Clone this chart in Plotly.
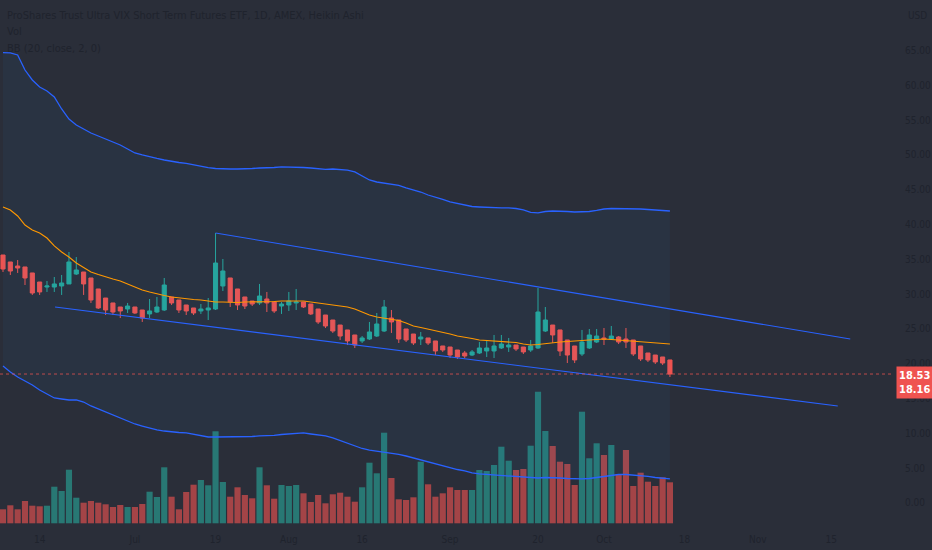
import pandas as pd
import plotly.graph_objects as go

# Heikin Ashi daily candles, UVXY, Jun 7 - Oct 14 2021
opens = [35.63, 34.63, 34.05, 33.91, 33.05, 31.75, 31.03, 31.03, 31.18, 31.47,
         32.90, 33.19, 32.33, 30.75, 29.45, 28.74, 28.16, 27.87, 28.16, 27.73,
         27.16, 27.44, 27.73, 29.60, 29.17, 28.45, 28.02, 27.59, 27.73, 27.87,
         31.18, 32.33, 30.75, 29.60, 29.02, 28.74, 29.31, 28.88, 28.30, 28.45,
         28.74, 28.88, 28.59, 27.87, 27.01, 26.29, 25.57, 24.86, 24.14, 23.28,
         23.56, 23.99, 24.71, 26.58, 26.29, 25.00, 24.28, 23.56, 23.71, 23.28,
         22.56, 22.41, 21.98, 21.55, 21.26, 21.55, 21.84, 21.84, 22.27, 22.41,
         22.70, 22.41, 21.98, 22.27, 24.71, 25.57, 24.86, 23.42, 22.56, 21.41,
         22.27, 23.13, 23.71, 23.56, 23.85, 23.56, 23.42, 22.56, 21.55, 21.26,
         20.98, 20.55]
highs = [35.63, 34.63, 34.91, 33.91, 33.05, 31.75, 31.90, 32.47, 32.76, 36.06,
         35.34, 33.19, 32.33, 30.75, 29.45, 28.74, 28.16, 28.74, 28.16, 27.73,
         29.31, 29.60, 32.33, 29.60, 29.17, 28.45, 28.02, 28.59, 29.45, 38.79,
         35.06, 32.33, 30.75, 29.60, 29.02, 31.47, 30.32, 28.88, 28.88, 30.32,
         30.75, 28.88, 28.59, 27.87, 27.01, 26.29, 25.57, 24.86, 24.14, 23.99,
         26.01, 27.30, 29.17, 27.73, 26.29, 25.00, 24.28, 24.57, 23.71, 23.28,
         22.56, 22.41, 21.98, 21.84, 21.98, 23.13, 23.42, 24.14, 24.14, 23.71,
         22.70, 22.41, 23.42, 30.89, 28.16, 25.57, 24.86, 23.42, 22.56, 24.86,
         25.00, 25.00, 25.14, 25.43, 23.99, 25.14, 23.42, 22.56, 21.55, 21.26,
         20.98, 20.55]
lows = [33.19, 32.76, 33.05, 31.32, 29.89, 29.89, 30.32, 30.32, 29.89, 31.47,
        32.76, 29.89, 28.74, 27.87, 27.01, 27.01, 26.58, 27.30, 27.16, 26.01,
        26.58, 27.30, 27.59, 28.45, 27.30, 27.01, 27.01, 27.16, 26.29, 27.73,
        30.46, 28.16, 27.73, 27.87, 28.30, 28.45, 27.44, 27.30, 27.16, 27.59,
        27.73, 28.02, 27.01, 25.72, 25.14, 24.43, 23.42, 22.70, 22.27, 22.99,
        23.42, 23.85, 24.57, 24.43, 22.99, 23.13, 22.70, 22.70, 22.70, 21.26,
        21.70, 20.83, 20.69, 20.83, 21.12, 21.41, 20.98, 20.83, 22.13, 21.70,
        21.84, 21.41, 21.70, 22.13, 24.57, 22.99, 21.12, 20.11, 20.11, 21.12,
        22.13, 22.99, 22.70, 23.42, 22.84, 22.27, 21.12, 20.40, 20.26, 19.97,
        19.83, 18.10]
closes = [33.62, 33.33, 33.76, 32.33, 30.17, 30.32, 31.18, 31.47, 31.61, 34.63,
          33.48, 31.47, 29.17, 28.02, 27.73, 27.44, 27.59, 28.30, 27.30, 26.58,
          27.59, 28.16, 31.32, 28.74, 27.73, 27.59, 27.30, 27.87, 28.02, 34.48,
          33.33, 28.88, 28.45, 28.30, 28.59, 29.74, 28.74, 27.59, 28.59, 29.02,
          28.88, 28.16, 27.16, 26.01, 25.43, 24.71, 23.99, 23.28, 22.70, 23.71,
          24.57, 25.72, 28.16, 26.01, 23.56, 23.42, 22.99, 23.85, 22.99, 21.84,
          21.98, 21.26, 20.98, 21.12, 21.70, 22.27, 22.27, 22.56, 22.84, 22.70,
          22.13, 21.70, 22.56, 27.44, 26.29, 24.14, 21.84, 21.26, 20.55, 23.13,
          24.14, 23.99, 23.56, 23.99, 23.13, 23.13, 21.41, 20.69, 20.55, 20.26,
          20.11, 18.53]
volumes = [14.0, 18.0, 14.0, 22.3, 17.6, 17.0, 17.6, 36.6, 32.3, 53.6,
           25.6, 20.6, 22.3, 20.6, 19.0, 16.3, 18.3, 16.3, 16.3, 19.3,
           31.6, 26.3, 56.0, 26.6, 14.0, 31.3, 38.6, 43.3, 38.0, 92.0,
           41.3, 26.6, 36.0, 28.3, 25.0, 56.0, 38.0, 24.6, 38.3, 37.3,
           38.3, 30.0, 21.3, 28.3, 20.0, 29.0, 30.6, 26.6, 21.6, 36.0,
           60.6, 50.0, 90.6, 45.3, 24.0, 23.3, 26.0, 61.6, 39.0, 26.6,
           30.0, 36.0, 33.3, 33.3, 33.3, 53.3, 52.3, 58.3, 76.6, 62.6,
           53.3, 54.3, 77.6, 131.6, 92.3, 77.3, 61.6, 59.3, 38.3, 111.6,
           65.0, 80.0, 68.3, 78.3, 49.0, 73.3, 37.3, 50.6, 41.6, 37.3,
           46.0, 41.0]

# BB (20, close, 2, 0)
bb_upper = [64.70, 64.66, 64.37, 62.21, 60.78, 59.77, 59.20, 58.33, 56.61, 55.17,
            54.31, 53.74, 53.16, 52.73, 52.30, 51.87, 51.44, 50.86, 50.29, 50.00,
            49.71, 49.50, 49.28, 49.07, 48.92, 48.78, 48.56, 48.35, 48.20, 48.06,
            47.99, 47.99, 47.99, 47.99, 48.06, 48.13, 48.13, 48.20, 48.28, 48.28,
            48.28, 48.20, 48.13, 47.99, 47.92, 47.99, 47.92, 47.84, 47.56, 46.98,
            46.41, 46.12, 45.98, 45.83, 45.62, 45.26, 44.97, 44.68, 44.25, 43.97,
            43.61, 43.25, 43.03, 42.82, 42.60, 42.53, 42.46, 42.39, 42.39, 42.39,
            42.31, 42.10, 41.74, 41.67, 41.88, 41.95, 41.95, 41.88, 41.81, 41.81,
            41.88, 42.03, 42.24, 42.31, 42.31, 42.31, 42.24, 42.24, 42.17, 42.10,
            42.03, 41.95]
bb_basis = [42.53, 42.10, 41.24, 39.94, 39.22, 38.79, 38.07, 36.93, 36.06, 35.34,
            34.48, 33.84, 33.19, 32.83, 32.47, 32.18, 31.90, 31.47, 31.03, 30.60,
            30.32, 30.03, 29.81, 29.60, 29.45, 29.31, 29.24, 29.17, 29.02, 28.88,
            28.88, 28.81, 28.81, 28.88, 28.88, 28.95, 28.95, 28.95, 29.02, 29.02,
            29.02, 29.02, 28.88, 28.74, 28.59, 28.45, 28.30, 28.16, 27.87, 27.44,
            27.01, 26.72, 26.58, 26.44, 26.22, 25.86, 25.43, 25.22, 25.00, 24.78,
            24.50, 24.28, 23.99, 23.85, 23.64, 23.42, 23.35, 23.28, 23.28, 23.20,
            23.06, 22.84, 22.70, 22.77, 22.92, 23.06, 23.13, 23.20, 23.28, 23.28,
            23.42, 23.49, 23.56, 23.49, 23.42, 23.28, 23.20, 23.13, 23.06, 22.99,
            22.92, 22.84]
bb_lower = [19.68, 18.82, 18.10, 17.53, 16.95, 16.24, 15.66, 15.09, 14.94, 14.80,
            14.80, 14.51, 13.94, 13.51, 13.07, 12.64, 12.21, 11.78, 11.35, 11.06,
            10.78, 10.49, 10.34, 10.20, 10.13, 10.06, 9.84, 9.63, 9.48, 9.48,
            9.48, 9.55, 9.48, 9.48, 9.55, 9.63, 9.63, 9.70, 9.84, 9.91,
            10.06, 10.06, 9.91, 9.77, 9.63, 9.34, 8.98, 8.62, 8.19, 7.83,
            7.61, 7.47, 7.33, 7.18, 6.97, 6.75, 6.47, 6.18, 5.89, 5.60,
            5.32, 5.10, 4.81, 4.60, 4.31, 4.17, 4.09, 4.02, 3.95, 3.88,
            3.81, 3.74, 3.59, 3.59, 3.66, 3.66, 3.59, 3.52, 3.45, 3.45,
            3.52, 3.66, 3.81, 3.95, 4.09, 4.09, 4.02, 3.88, 3.81, 3.66,
            3.52, 3.45]

# hand drawn trend lines (bar position, price)
trend_top_x = [29, 115.6]
trend_top_y = [38.79, 23.56]
trend_bottom_x = [7.1, 113.9]
trend_bottom_y = [28.16, 13.94]

real_close = 18.16

tick_dates = ["2021-06-14", "2021-07-01", "2021-07-19", "2021-08-02", "2021-08-16", "2021-09-01",
              "2021-09-20", "2021-10-01", "2021-10-18", "2021-11-01", "2021-11-15"]
tick_text = ["14", "Jul", "19", "Aug", "16", "Sep", "20", "Oct", "18", "Nov", "15"]

holidays = ["2021-07-05", "2021-09-06", "2021-11-25"]
calendar = [d.strftime("%Y-%m-%d") for d in pd.bdate_range("2021-06-07", "2021-11-30")]
calendar = [d for d in calendar if d not in holidays]
tick_pos = [calendar.index(d) for d in tick_dates]

bars = list(range(len(closes)))
UP, DOWN = "#26a69a", "#ef5350"
vol_colors = ["rgba(38,166,154,0.62)" if c >= o else "rgba(239,83,80,0.62)" for o, c in zip(opens, closes)]

FONT = "Liberation Sans Narrow, DejaVu Sans Condensed, sans-serif"
BG = "#2a2e39"
TXT = "#1f232d"

fig = go.Figure()

fig.add_trace(go.Bar(x=bars, y=volumes, marker_color=vol_colors, marker_line_width=0,
                     width=0.84, yaxis="y", hoverinfo="skip"))

fig.add_trace(go.Scatter(x=bars, y=bb_upper, mode="lines", line=dict(color="#2962ff", width=1.3),
                         yaxis="y2", hoverinfo="skip"))
fig.add_trace(go.Scatter(x=bars, y=bb_lower, mode="lines", line=dict(color="#2962ff", width=1.3),
                         fill="tonexty", fillcolor="rgba(33,150,243,0.05)", yaxis="y2", hoverinfo="skip"))
fig.add_trace(go.Scatter(x=bars, y=bb_basis, mode="lines", line=dict(color="#ff9800", width=1.1),
                         yaxis="y2", hoverinfo="skip"))

fig.add_trace(go.Scatter(x=trend_top_x, y=trend_top_y, mode="lines", line=dict(color="#2962ff", width=1.1),
                         yaxis="y2", hoverinfo="skip"))
fig.add_trace(go.Scatter(x=trend_bottom_x, y=trend_bottom_y, mode="lines", line=dict(color="#2962ff", width=1.1),
                         yaxis="y2", hoverinfo="skip"))

fig.add_trace(go.Candlestick(x=bars, open=opens, high=highs, low=lows, close=closes, yaxis="y2",
                             increasing=dict(line=dict(color=UP, width=1), fillcolor=UP),
                             decreasing=dict(line=dict(color=DOWN, width=1), fillcolor=DOWN),
                             whiskerwidth=0, hoverinfo="skip"))

# last price line
fig.add_shape(type="line", xref="paper", x0=0, x1=1, yref="y2", y0=closes[-1], y1=closes[-1],
              line=dict(color="rgba(239,83,80,0.75)", width=1, dash="dot"))

fig.add_annotation(xref="paper", x=1, xanchor="left", xshift=4, yref="y2", y=closes[-1],
                   yanchor="top", yshift=8, showarrow=False,
                   text="<b>%.2f</b><br><b>%.2f</b>" % (closes[-1], real_close),
                   font=dict(family=FONT, size=11, color="white"), bgcolor=DOWN, borderpad=2, align="left")

fig.add_annotation(xref="paper", x=1, xanchor="left", xshift=14, yref="paper", y=1, yshift=-15,
                   yanchor="middle", showarrow=False, text="USD",
                   font=dict(family=FONT, size=10, color=TXT))

legend_lines = ["ProShares Trust Ultra VIX Short Term Futures ETF, 1D, AMEX, Heikin Ashi",
                "Vol", "BB (20, close, 2, 0)"]
for k, line in enumerate(legend_lines):
    fig.add_annotation(xref="paper", x=0, xanchor="left", xshift=5, yref="paper", y=1,
                       yshift=-15 - 16.5 * k, yanchor="middle", showarrow=False, text=line,
                       font=dict(family=FONT, size=11, color=TXT))

fig.update_layout(
    width=932, height=550,
    margin=dict(l=0, r=40, t=0, b=26),
    paper_bgcolor=BG, plot_bgcolor=BG,
    showlegend=False, hovermode=False,
    boxgap=0.2,
    font=dict(family=FONT, size=10, color=TXT),
    xaxis=dict(range=[-0.41, 121.3], tickvals=tick_pos, ticktext=tick_text,
               showgrid=False, zeroline=False, showline=False, ticks="",
               ticklabelstandoff=8,
               rangeslider=dict(visible=False), tickfont=dict(size=10, color=TXT)),
    yaxis=dict(range=[-0.7, 523.3], visible=False, showgrid=False),
    yaxis2=dict(range=[-3.02, 72.27], overlaying="y", side="right", tickvals=list(range(0, 70, 5)),
                tickformat=".2f", showgrid=False, zeroline=False, showline=False, ticks="",
                ticklabelstandoff=12, tickfont=dict(size=10, color=TXT)),
)

fig.write_html("out.html", config={"displayModeBar": False},
               post_script="document.body.style.margin='0';document.body.style.background='%s';" % BG)
